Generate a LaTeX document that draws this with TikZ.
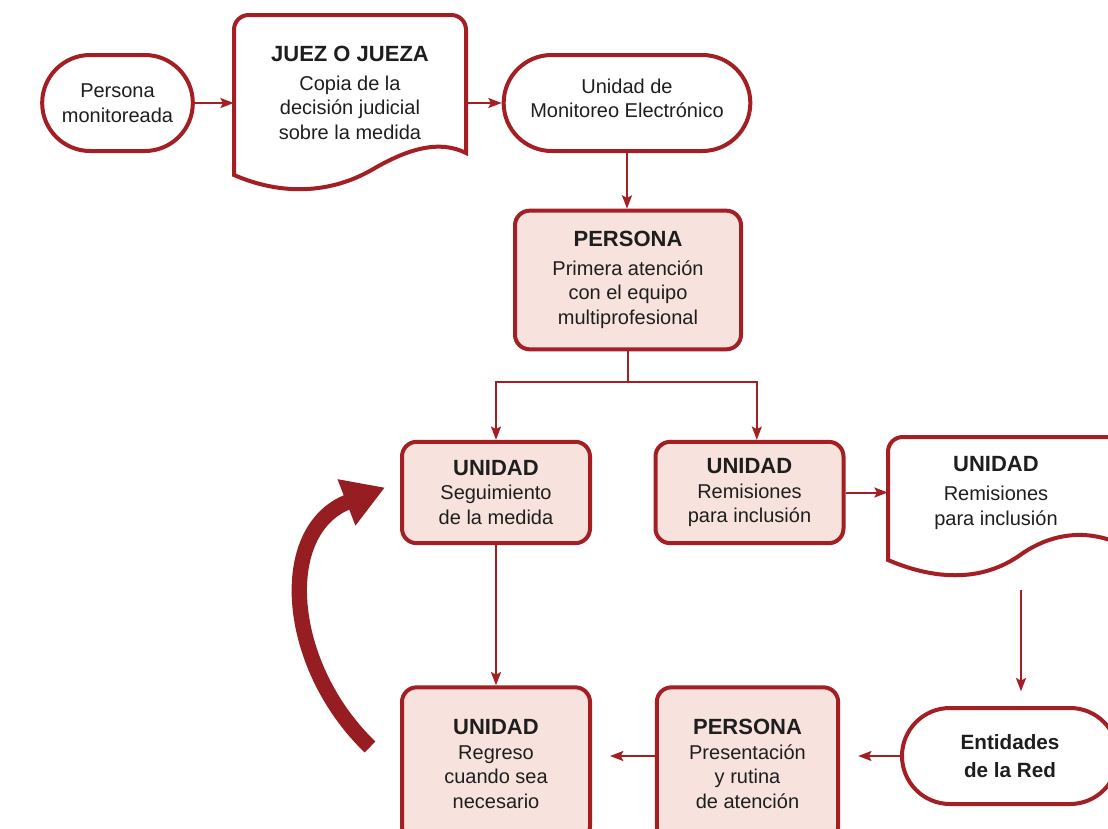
\documentclass[tikz,border=0pt]{standalone}
\usepackage{fontspec}
\setmainfont{Liberation Sans}
\usetikzlibrary{arrows.meta}
\definecolor{borde}{HTML}{A31F24}
\definecolor{relleno}{HTML}{F8E2DD}
\definecolor{texto}{HTML}{1E1E1E}
\newcommand{\cuerpo}{\fontsize{15}{18.4}\selectfont}
\newcommand{\titulo}[1]{{\fontsize{16.5}{20}\selectfont\bfseries #1}}
\tikzstyle{terminal}=[draw=borde,line width=3pt,rounded corners=36pt,
    minimum height=72pt,align=center,text=texto,font=\cuerpo]
\tikzstyle{box}=[draw=borde,fill=relleno,line width=3pt,rounded corners=11pt,
    align=center,text=texto,font=\cuerpo]
\tikzstyle{doc text}=[align=center,text=texto,font=\cuerpo]
\tikzstyle{doc border}=[draw=borde,line width=3pt]
\tikzstyle{flow}=[->,>={Stealth[length=10pt,width=7.5pt,inset=2pt]},
    draw=borde,line width=1.5pt]
\tikzstyle{big loop}=[-{Triangle[length=31pt,width=35pt]},draw=borde!92!black,
    line width=11.5pt]

\begin{document}
\begin{tikzpicture}[x=0.75pt,y=-0.75pt]
    \useasboundingbox (0,0) rectangle (1108,829);
    %
    \node[terminal,minimum width=113pt] (mon) at (117.5,103) {Persona\\monitoreada};
    \node[doc text,minimum width=174pt] (juez) at (350,93)
        {\titulo{JUEZ O JUEZA}\\[3pt]Copia de la\\decisión judicial\\sobre la medida};
    \draw[doc border] (234,175) [rounded corners=11pt] -- (234,15) -- (466,15)
        [sharp corners] -- (466,153)
        .. controls (440,140) and (410,148) .. (375,168)
        .. controls (330,195) and (280,195) .. (234,175) -- cycle;
    \node[terminal,minimum width=185pt] (moni) at (627,103)
        {Unidad de\\Monitoreo Electrónico\\[-11pt]};
    %
    \node[box,minimum width=169.5pt,minimum height=104pt] (pers) at (628,280)
        {\titulo{PERSONA}\\[3pt]Primera atención\\con el equipo\\multiprofesional};
    %
    \node[box,minimum width=141pt,minimum height=76pt] (seg) at (496,492.5)
        {\titulo{UNIDAD}\\Seguimiento\\de la medida};
    \node[box,minimum width=141pt,minimum height=76pt] (rem) at (749.5,492.5)
        {\titulo{UNIDAD}\\Remisiones\\para inclusión};
    \node[doc text,minimum width=162pt] (rdoc) at (996,493)
        {\titulo{UNIDAD}\\[3pt]Remisiones\\para inclusión};
    \draw[doc border] (888,560) [rounded corners=11pt] -- (888,437) -- (1130,437)
        [sharp corners] -- (1130,545) -- (1110,540)
        .. controls (1080,530) and (1050,535) .. (1023,553)
        .. controls (980,585) and (930,578) .. (888,560) -- cycle;
    %
    \node[terminal,minimum width=162pt,font=\fontsize{15.5}{20.5}\selectfont\bfseries]
        (ent) at (1010,756) {Entidades\\de la Red};
    \node[box,minimum width=136pt,minimum height=115pt] (pers2) at (747.5,764)
        {\titulo{PERSONA}\\Presentación\\y rutina\\de atención};
    \node[box,minimum width=141pt,minimum height=115pt] (reg) at (496,764)
        {\titulo{UNIDAD}\\Regreso\\cuando sea\\necesario};
    %
    \draw[flow] (mon.east) -- (mon.east -| juez.west);
    \draw[flow] (juez.east |- moni.west) -- (moni.west);
    \draw[flow] (moni.south) -- (moni.south |- pers.north);
    \draw[flow] (pers.south) -- ++(0,31) coordinate (split) -| (seg.north);
    \draw[flow] (split) -| ([xshift=5.5pt]rem.north);
    \draw[flow] (rem.east) -- (rem.east -| rdoc.west);
    \coordinate (rdocout) at (1021,590);
    \draw[flow,shorten >=11pt] (rdocout) -- (rdocout |- ent.north);
    \draw[flow,shorten >=13.5pt] (ent.west) -- (ent.west -| pers2.east);
    \draw[flow,shorten >=13.5pt] (pers2.west |- ent.west) -- (ent.west -| reg.east);
    \draw[flow] (seg.south) -- (reg.north);
    %
    \draw[big loop] ([shift={(-30,-17)}]reg.west) .. controls (285,665) and (275,530)
        .. ([shift={(-15,-5)}]seg.west);
\end{tikzpicture}
\end{document}
